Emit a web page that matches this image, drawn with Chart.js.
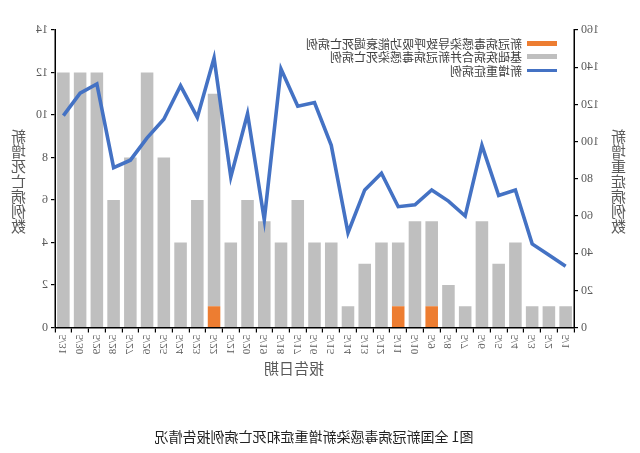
<!DOCTYPE html>
<html lang="zh">
<head>
    <meta charset="UTF-8">
    <title>全国新冠病毒感染新增重症和死亡病例报告情况</title>
    <script src="https://cdn.jsdelivr.net/npm/chart.js"></script>
    <style>
        html, body { margin: 0; padding: 0; background: #fff; }
        /* the reference picture is mirrored left-right, so the whole page is flipped */
        #page { position: relative; width: 640px; height: 453px; transform: scaleX(-1); overflow: hidden;
                font-family: "Noto Sans CJK SC", "Noto Sans", sans-serif; }
        #chart-box { position: absolute; left: 0; top: 0; width: 640px; height: 400px; }
        .y-title { position: absolute; width: 17px; font-size: 15px; line-height: 15px; color: #595959; text-align: center; }
        #x-title { position: absolute; left: 300px; top: 360px; width: 92px; text-align: center; font-size: 15px; line-height: 16px; color: #595959; }
        #legend { position: absolute; left: 83px; top: 37px; font-size: 12px; color: #404040; }
        .legend-row { display: flex; align-items: center; height: 13.3px; white-space: nowrap; }
        .swatch { width: 30px; margin-right: 5px; }
        #caption { position: absolute; left: 0; top: 426px; width: 652px; text-align: center; font-size: 14px; color: #222; }
    </style>
</head>
<body>
<div id="page">
    <div id="chart-box"><canvas id="chart" width="640" height="400"></canvas></div>
    <div class="y-title" id="title-left" style="left:13px; top:128px;"></div>
    <div class="y-title" id="title-right" style="left:613px; top:128px;"></div>
    <div id="x-title"></div>
    <div id="legend"></div>
    <div id="caption">图1 全国新冠病毒感染新增重症和死亡病例报告情况</div>
</div>

<script>
    // report dates
    const dates = ['5/1', '5/2', '5/3', '5/4', '5/5', '5/6', '5/7', '5/8', '5/9', '5/10',
                   '5/11', '5/12', '5/13', '5/14', '5/15', '5/16', '5/17', '5/18', '5/19', '5/20',
                   '5/21', '5/22', '5/23', '5/24', '5/25', '5/26', '5/27', '5/28', '5/29', '5/30', '5/31'];

    // deaths from respiratory failure caused by the infection (orange)
    const respFailureDeaths = [0, 0, 0, 0, 0, 0, 0, 0, 1, 0,
                               1, 0, 0, 0, 0, 0, 0, 0, 0, 0,
                               0, 1, 0, 0, 0, 0, 0, 0, 0, 0, 0];

    // deaths from underlying disease combined with infection (gray)
    const comorbidDeaths = [1, 1, 1, 4, 3, 5, 1, 2, 4, 5,
                            3, 4, 3, 1, 4, 4, 6, 4, 5, 6,
                            4, 10, 6, 4, 8, 12, 8, 6, 12, 12, 12];

    // new severe cases (blue line)
    const newSevere = [33, 39, 45, 74, 71, 98, 60, 68, 74, 66,
                       65, 83, 74, 51, 98, 121, 119, 139, 58, 115,
                       81, 145, 113, 130, 112, 102, 90, 86, 131, 126, 114];

    const seriesNames = ['新冠病毒感染导致呼吸功能衰竭死亡病例', '基础疾病合并新冠病毒感染死亡病例', '新增重症病例'];
    const seriesColors = ['#ED7D31', '#BFBFBF', '#4472C4'];

    const severeAxis = [0, 160, 20];   // min, max, step
    const deathAxis = [0, 14, 2];
    const severeTitle = '新增重症病例数';
    const deathTitle = '新增死亡病例数';
    const xTitle = '报告日期';

    // titles and legend as plain text
    document.getElementById('title-left').innerHTML = severeTitle.split('').join('<br>');
    document.getElementById('title-right').innerHTML = deathTitle.split('').join('<br>');
    document.getElementById('x-title').textContent = xTitle;

    const legend = document.getElementById('legend');
    seriesNames.forEach((name, i) => {
        const row = document.createElement('div');
        row.className = 'legend-row';
        const sw = document.createElement('span');
        sw.className = 'swatch';
        sw.style.background = seriesColors[i];
        sw.style.height = i === 2 ? '3px' : '5px';
        row.appendChild(sw);
        row.appendChild(document.createTextNode(name));
        legend.appendChild(row);
    });

    // x labels turned a quarter clockwise, reading top to bottom
    const xLabels = {
        id: 'xLabels',
        afterDraw(chart) {
            const sx = chart.scales.x;
            const ctx = chart.ctx;
            ctx.save();
            ctx.fillStyle = '#595959';
            ctx.font = '11px "Liberation Serif"';
            ctx.textAlign = 'left';
            ctx.textBaseline = 'middle';
            dates.forEach((d, i) => {
                ctx.save();
                ctx.translate(sx.getPixelForTick(i), sx.top + 7);
                ctx.rotate(Math.PI / 2);
                ctx.fillText(d, 0, 0);
                ctx.restore();
            });
            ctx.restore();
        }
    };

    const axisFont = { family: '"Liberation Serif"', size: 12 };

    new Chart(document.getElementById('chart'), {
        type: 'bar',
        data: {
            labels: dates,
            datasets: [
                {
                    label: seriesNames[0],
                    data: respFailureDeaths,
                    backgroundColor: seriesColors[0],
                    yAxisID: 'yD',
                    stack: 'deaths',
                    barPercentage: 0.75,
                    categoryPercentage: 1,
                    order: 2
                },
                {
                    label: seriesNames[1],
                    data: comorbidDeaths,
                    backgroundColor: seriesColors[1],
                    yAxisID: 'yD',
                    stack: 'deaths',
                    barPercentage: 0.75,
                    categoryPercentage: 1,
                    order: 2
                },
                {
                    type: 'line',
                    label: seriesNames[2],
                    data: newSevere,
                    borderColor: seriesColors[2],
                    borderWidth: 3.6,
                    pointRadius: 0,
                    tension: 0,
                    fill: false,
                    yAxisID: 'yS',
                    order: 0
                }
            ]
        },
        options: {
            responsive: false,
            animation: false,
            layout: { padding: { left: 38, right: 33, top: 30, bottom: 42 } },
            plugins: {
                legend: { display: false },
                tooltip: { enabled: false }
            },
            scales: {
                x: {
                    stacked: true,
                    offset: true,
                    grid: { offset: true, drawOnChartArea: false, tickLength: 5, color: '#000', lineWidth: 1.2 },
                    border: { color: '#000', width: 1.5 },
                    ticks: { autoSkip: false, minRotation: 90, maxRotation: 90, color: 'transparent', font: { size: 11 }, padding: 2 }
                },
                yS: {
                    position: 'left',
                    min: severeAxis[0], max: severeAxis[1],
                    grid: { drawOnChartArea: false, tickLength: 4, color: '#000', lineWidth: 1.2 },
                    border: { color: '#000', width: 1.5 },
                    ticks: { stepSize: severeAxis[2], color: '#595959', font: axisFont, padding: 3 }
                },
                yD: {
                    position: 'right',
                    stacked: true,
                    min: deathAxis[0], max: deathAxis[1],
                    grid: { drawOnChartArea: false, tickLength: 4, color: '#000', lineWidth: 1.2 },
                    border: { color: '#000', width: 1.5 },
                    ticks: { stepSize: deathAxis[2], color: '#595959', font: axisFont, padding: 3 }
                }
            }
        },
        plugins: [xLabels]
    });
</script>
</body>
</html>
